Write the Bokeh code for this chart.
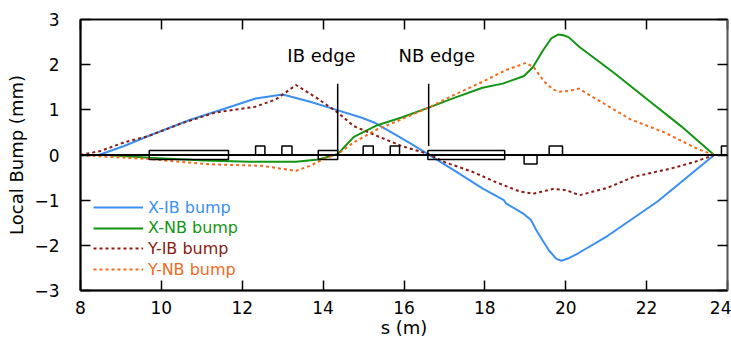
from bokeh.plotting import figure
from bokeh.models import (Range1d, LinearAxis, FixedTicker, Span, Legend, LegendItem)
from bokeh.core.properties import value
from bokeh.embed import file_html
from bokeh.resources import INLINE

# ---- data ----
blue_s = [8.0, 8.45, 9.08, 9.68, 10.68, 11.58, 12.33, 13.0, 13.68, 14.33, 14.94, 15.26, 15.69,
          16.19, 16.59, 17.26, 17.94, 18.47, 18.52, 18.94, 19.14, 19.27, 19.44, 19.59, 19.77,
          19.89, 20.09, 20.32, 21.02, 22.27, 23.67]
blue_y = [0, 0, 0.2, 0.42, 0.77, 1.03, 1.25, 1.34, 1.18, 1.0, 0.83, 0.72, 0.5,
          0.24, 0.02, -0.35, -0.74, -1.0, -1.07, -1.29, -1.44, -1.66, -1.91, -2.12, -2.3,
          -2.34, -2.28, -2.17, -1.8, -1.03, 0]

green_s = [8.0, 8.67, 9.7, 11.08, 12.18, 13.33, 13.88, 14.36, 14.6, 14.76, 15.34, 15.94, 16.61,
           17.26, 17.94, 18.44, 18.97, 19.19, 19.44, 19.64, 19.82, 19.94, 20.07, 20.34, 21.19,
           22.02, 22.85, 23.67]
green_y = [0, 0, -0.06, -0.12, -0.15, -0.15, -0.1, 0.02, 0.25, 0.4, 0.66, 0.83, 1.05,
           1.27, 1.49, 1.58, 1.75, 1.95, 2.32, 2.58, 2.67, 2.65, 2.61, 2.39, 1.82,
           1.23, 0.64, 0]

yib_s = [8.0, 8.5, 9.08, 9.68, 10.5, 11.33, 12.33, 12.83, 13.33, 13.83, 14.33, 14.76, 15.34,
         15.94, 16.61, 17.01, 17.69, 18.27, 18.84, 19.19, 19.69, 20.02, 20.34, 21.02, 21.69,
         22.6, 23.2, 23.67]
yib_y = [0, 0.09, 0.28, 0.42, 0.7, 0.94, 1.07, 1.23, 1.55, 1.27, 0.96, 0.64, 0.42,
         0.2, 0.02, -0.16, -0.37, -0.6, -0.8, -0.86, -0.75, -0.78, -0.89, -0.73, -0.48,
         -0.3, -0.15, 0]

ynb_s = [8.0, 8.5, 9.7, 11.08, 11.68, 12.5, 12.93, 13.33, 13.68, 14.01, 14.36, 14.76, 15.34,
         15.94, 16.61, 17.26, 17.94, 18.52, 19.02, 19.22, 19.47, 19.69, 19.84, 20.09, 20.32,
         20.77, 21.6, 22.44, 23.27, 23.67]
ynb_y = [0, -0.03, -0.09, -0.2, -0.22, -0.24, -0.3, -0.35, -0.24, -0.09, 0.02, 0.28, 0.57,
         0.79, 1.05, 1.34, 1.62, 1.88, 2.04, 1.93, 1.62, 1.45, 1.4, 1.42, 1.47,
         1.23, 0.79, 0.5, 0.13, 0]

elem_s0 = [9.70, 12.33, 12.98, 13.88, 14.99, 15.66, 16.59, 18.97, 19.59, 23.85]
elem_s1 = [11.66, 12.56, 13.23, 14.36, 15.24, 15.89, 18.49, 19.29, 19.92, 24.2]
elem_y0 = [-0.1, 0, 0, -0.1, 0, 0, -0.1, -0.2, 0, 0]
elem_y1 = [0.1, 0.2, 0.2, 0.1, 0.2, 0.2, 0.1, 0, 0.2, 0.2]

edge_s = [14.36, 16.61]
edge_y0 = [0.07, 0.2]
edge_y1 = [1.58, 1.58]
edge_label_s = [13.96, 16.81]
edge_label_y = [2.2, 2.2]
edge_labels = ["IB edge", "NB edge"]

x_ticks = [8, 10, 12, 14, 16, 18, 20, 22, 24]
y_ticks = [-3, -2, -1, 0, 1, 2, 3]

series_names = ["X-IB bump", "X-NB bump", "Y-IB bump", "Y-NB bump"]
series_colors = ["#3a8ff0", "#139413", "#8b1a12", "#f26a1b"]

FONT = "DejaVu Sans"

p = figure(width=731, height=340, output_backend="svg", toolbar_location=None,
           x_range=Range1d(8, 24), y_range=Range1d(-3, 3),
           min_border_left=80, min_border_right=4, min_border_top=19, min_border_bottom=47)
p.grid.visible = False
p.outline_line_color = "black"
p.outline_line_width = 1.5
p.background_fill_color = "white"
p.border_fill_color = "white"

for ax, ticks in ((p.xaxis[0], x_ticks), (p.yaxis[0], y_ticks)):
    ax.ticker = FixedTicker(ticks=ticks)
    ax.major_tick_in = 10
    ax.major_tick_out = 0
    ax.minor_tick_line_color = None
    ax.axis_line_width = 2
    ax.major_tick_line_width = 1.5
    ax.major_label_text_font = FONT
    ax.major_label_text_font_size = "17px"
    ax.major_label_text_color = "black"
    ax.axis_label_text_font = FONT
    ax.axis_label_text_font_size = "18px"
    ax.axis_label_text_font_style = "normal"
    ax.axis_label_text_color = "black"

p.xaxis.axis_label = "s (m)"
p.yaxis.axis_label = "Local Bump (mm)"
p.xaxis.major_label_standoff = 10
p.xaxis.axis_label_standoff = 0
p.yaxis.major_label_standoff = 21
p.yaxis.axis_label_standoff = 4

# mirrored axes (ticks only, no labels drawn)
top = LinearAxis(ticker=FixedTicker(ticks=x_ticks), major_tick_in=10, major_tick_out=0,
                 minor_tick_line_color=None, major_label_text_font_size="1px",
                 major_label_text_color=None, major_label_standoff=0,
                 axis_line_width=1.5, major_tick_line_width=1.5)
right = LinearAxis(ticker=FixedTicker(ticks=y_ticks), major_tick_in=10, major_tick_out=0,
                   minor_tick_line_color=None, major_label_text_font_size="1px",
                   major_label_text_color=None, major_label_standoff=0,
                   axis_line_width=1.5, major_tick_line_width=1.5,
                   axis_line_color="#555555")
p.add_layout(top, "above")
p.add_layout(right, "right")

# curves
r_xib = p.line(blue_s, blue_y, line_color=series_colors[0], line_width=2)
r_xnb = p.line(green_s, green_y, line_color=series_colors[1], line_width=2)
r_yib = p.line(yib_s, yib_y, line_color=series_colors[2], line_width=2, line_dash="3 3")
r_ynb = p.line(ynb_s, ynb_y, line_color=series_colors[3], line_width=2, line_dash="3 3")

# lattice elements
p.quad(left=elem_s0, right=elem_s1, bottom=elem_y0, top=elem_y1,
       fill_color=None, line_color="black", line_width=1.5)

# zero line
p.add_layout(Span(location=0, dimension="width", line_color="black", line_width=2))

# edge markers
p.segment(x0=edge_s, y0=edge_y0, x1=edge_s, y1=edge_y1, line_color="black", line_width=1.5)
p.text(x=edge_label_s, y=edge_label_y, text=edge_labels, text_align="center",
       text_baseline="middle", text_font=value(FONT), text_font_size="18px", text_color="black")

# legends (one per entry so each label takes its line colour)
renderers = [r_xib, r_xnb, r_yib, r_ynb]
for i, (name, col, r) in enumerate(zip(series_names, series_colors, renderers)):
    lg = Legend(items=[LegendItem(label=name, renderers=[r])],
                location=(13, 73 - i * 20.7), orientation="vertical",
                background_fill_alpha=0, border_line_color=None,
                padding=0, margin=0, spacing=0,
                glyph_width=50, glyph_height=20, label_height=20,
                label_standoff=5,
                label_text_font=FONT, label_text_font_size="16px",
                label_text_color=col)
    p.add_layout(lg)

open("out.html", "w").write(file_html(p, INLINE))
